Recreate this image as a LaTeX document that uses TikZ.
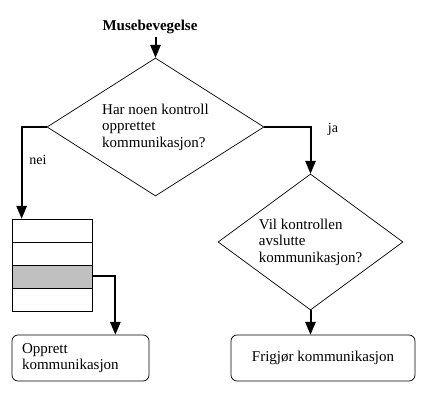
\documentclass[tikz,border=0pt]{standalone}
\usepackage{fontspec}
\setmainfont{Liberation Serif}
\usetikzlibrary{shapes.geometric, arrows}
\tikzstyle{decision} = [diamond, draw=black, line width=0.7pt, inner sep=0pt, align=left, font=\fontsize{15}{16.5}\selectfont]
\tikzstyle{process} = [rectangle, rounded corners=6pt, minimum height=46pt, draw=black, line width=0.7pt, font=\fontsize{15}{16.5}\selectfont]
\tikzstyle{cell} = [rectangle, minimum width=80pt, minimum height=23pt, inner sep=0pt, draw=black, line width=0.7pt]
\tikzstyle{branch} = [font=\fontsize{14}{16}\selectfont]
\tikzstyle{arrow} = [line width=2pt,->,>=triangle 45]
\definecolor{cellgray}{RGB}{192,192,192}

\begin{document}
\begin{tikzpicture}[x=1pt, y=-1pt]

    \useasboundingbox (0,0) rectangle (437,403);

    \node (start) at (150,27) [font=\bfseries\fontsize{15}{16.5}\selectfont] {Musebevegelse};
    \node (A) at (155.5,127) [decision, minimum width=217pt, minimum height=138pt, aspect=1.57] {Har noen kontroll\\opprettet\\kommunikasjon?};
    \node (B) at (310.5,242) [decision, minimum width=185pt, minimum height=136pt, aspect=1.36] {Vil kontrollen\\avslutte\\kommunikasjon?};

    \node (s1) at (52,230.5) [cell] {};
    \node (s2) at (52,253.5) [cell] {};
    \node (s3) at (52,276.5) [cell, fill=cellgray] {};
    \node (s4) at (52,299.5) [cell] {};

    \node (C) at (80.5,358) [process, text width=117pt, inner xsep=10pt, align=left] {Opprett\\kommunikasjon};
    \node (D) at (323,358) [process, minimum width=184pt] {Frigjør kommunikasjon};

    \node (nei) at (38,160) [branch] {nei};
    \node (ja) at (333,129) [branch] {ja};

    \draw [arrow] (A.north |- start.south) -- (A.north);
    \draw [arrow] (A.west) -| ([xshift=10pt]s1.north west);
    \draw [arrow] (A.east) -| (B.north);
    \draw [arrow] (B.south) -- (B.south |- D.north);
    \draw [arrow] (s3.east) -| ([xshift=-34pt]C.north east);

\end{tikzpicture}
\end{document}
